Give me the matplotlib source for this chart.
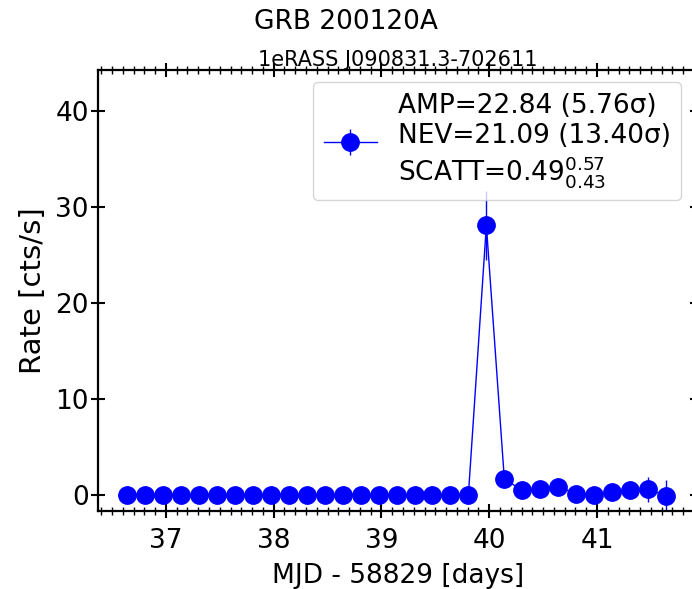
import numpy as np
import matplotlib
matplotlib.use('Agg')
import matplotlib.pyplot as plt
from matplotlib.ticker import MultipleLocator

# light curve (MJD - 58829, rate in cts/s)
t0 = 36.64
dt = 4.0 / 24.0
n_pts = 31
mjd = t0 + dt * np.arange(n_pts)
rate = [0.0, 0.0, 0.0, 0.0, 0.0, 0.0, 0.0, 0.0, 0.0, 0.0,
        0.0, 0.0, 0.0, 0.0, 0.0, 0.0, 0.0, 0.0, 0.0, 0.0,
        28.1, 1.65, 0.45, 0.6, 0.8, 0.1, 0.0, 0.3, 0.5, 0.55, -0.1]
rate_err = [0.1, 0.1, 0.1, 0.1, 0.1, 0.1, 0.1, 0.1, 0.1, 0.1,
            0.1, 0.1, 0.1, 0.1, 0.1, 0.1, 0.1, 0.1, 0.1, 0.1,
            3.6, 0.4, 0.3, 0.4, 0.4, 0.3, 0.3, 0.5, 0.9, 1.3, 1.6]

label = 'AMP=22.84 (5.76σ)\nNEV=21.09 (13.40σ)\nSCATT=$0.49^{0.57}_{0.43}$'

fig = plt.figure(figsize=(6.92, 5.89), dpi=100)
ax = fig.add_axes([0.1416, 0.1324, 0.866, 0.7486])

ax.errorbar(mjd, rate, yerr=rate_err, fmt='o', ls='-', c='blue', ms=12.5,
            lw=1, elinewidth=1, label=label)

ax.set_xlim(36.37, 41.93)
ax.set_ylim(-1.7, 44.3)
ax.xaxis.set_major_locator(MultipleLocator(1))
ax.xaxis.set_minor_locator(MultipleLocator(0.1))
ax.yaxis.set_major_locator(MultipleLocator(10))
ax.tick_params(which='both', direction='inout', top=True, right=True, labelsize=19)
ax.tick_params(which='major', length=10, width=1.5)
ax.tick_params(which='minor', length=6, width=1)
ax.tick_params(axis='x', which='major', pad=7)
ax.tick_params(axis='y', which='major', pad=1.5)
for s in ax.spines.values():
    s.set_linewidth(1.6)

ax.set_xlabel('MJD - 58829 [days]', fontsize=19, labelpad=7)
ax.set_ylabel('Rate [cts/s]', fontsize=21, labelpad=6)
ax.set_title('1eRASS J090831.3-702611', fontsize=15, pad=3)
fig.text(0.5, 0.963, 'GRB 200120A', fontsize=19, ha='center', va='center')

ax.legend(loc='upper right', fontsize=19, handlelength=2.0, borderaxespad=0.45,
          bbox_to_anchor=(0.993, 1.0))

fig.savefig('out.png', dpi=100)
